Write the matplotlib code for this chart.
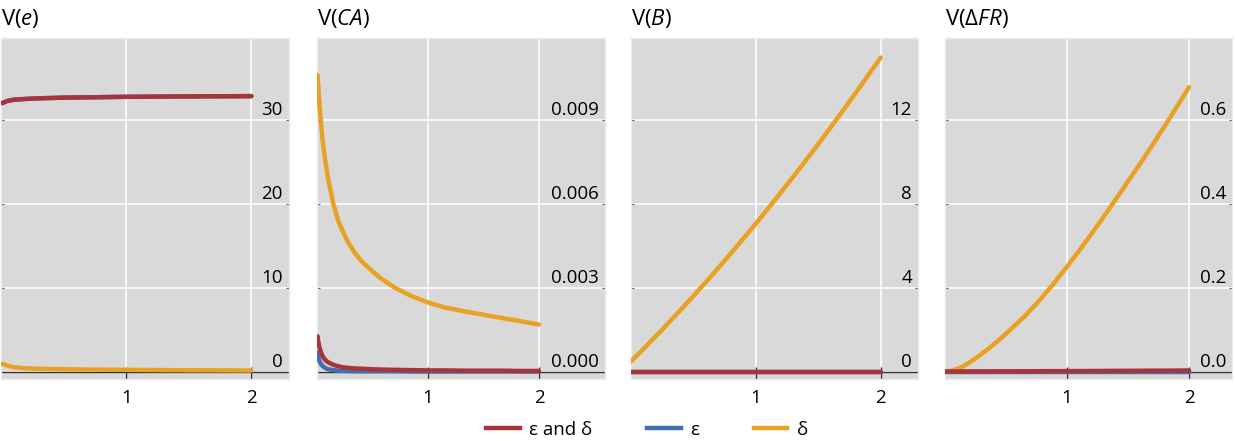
import matplotlib
matplotlib.use("Agg")
import matplotlib.pyplot as plt
import matplotlib.transforms as mtransforms
from matplotlib.lines import Line2D

plt.rcParams["font.family"] = ["Open Sans", "DejaVu Sans"]
plt.rcParams["mathtext.fontset"] = "custom"
plt.rcParams["mathtext.rm"] = "Open Sans"
plt.rcParams["mathtext.it"] = "Open Sans:italic"

RED = "#a8343a"
BLUE = "#4070b4"
ORANGE = "#e9a124"
BG = "#d9d9d9"

# V(e)
x_e = [0.01, 0.05, 0.1, 0.2, 0.3, 0.5, 0.75, 1.0, 1.5, 2.0]
e_both = [32.0, 32.25, 32.4, 32.5, 32.57, 32.65, 32.7, 32.75, 32.8, 32.83]
e_eps = [32.0, 32.25, 32.4, 32.5, 32.57, 32.65, 32.7, 32.75, 32.8, 32.83]
e_delta = [0.92, 0.7, 0.52, 0.38, 0.32, 0.27, 0.23, 0.2, 0.15, 0.12]

# V(CA)
x_ca = [0.005, 0.01, 0.02, 0.033, 0.05, 0.072, 0.1, 0.147, 0.19, 0.237, 0.28, 0.34,
        0.4, 0.5, 0.58, 0.7, 0.85, 1.0, 1.15, 1.33, 1.5, 1.66, 1.83, 2.0]
ca_both = [0.00126, 0.0011, 0.0009, 0.00072, 0.00055, 0.00042, 0.00033, 0.00024,
           0.00019, 0.00015, 0.00013, 0.00011, 0.0001, 0.00008, 0.00007, 0.00006,
           0.00005, 0.00004, 0.00004, 0.00003, 0.00003, 0.00003, 0.00002, 0.00002]
ca_eps = [0.00067, 0.00055, 0.0004, 0.00028, 0.0002, 0.00013, 0.00008, 0.00005,
          0.00003, 0.00002, 0.00002, 0.00001, 0.00001, 0.00001, 0.00001, 0.00001,
          0.0, 0.0, 0.0, 0.0, 0.0, 0.0, 0.0, 0.0]
ca_delta = [0.0106, 0.0103, 0.0097, 0.0090, 0.0083, 0.0076, 0.0069, 0.0060,
            0.0054, 0.00497, 0.00462, 0.00425, 0.00395, 0.00358, 0.00332, 0.00300,
            0.00270, 0.00247, 0.00229, 0.00215, 0.00203, 0.00192, 0.00180, 0.00168]

# V(B)
x_b = [0.0, 0.125, 0.25, 0.375, 0.5, 0.625, 0.75, 0.875, 1.0,
       1.125, 1.25, 1.375, 1.5, 1.625, 1.75, 1.875, 2.0]
b_both = [0.0] * 17
b_eps = [0.0] * 17
b_delta = [0.48, 1.23, 2.0, 2.79, 3.6, 4.43, 5.28, 6.16, 7.05,
           7.97, 8.91, 9.86, 10.84, 11.84, 12.87, 13.91, 14.97]

# V(ΔFR)
x_fr = [0.0, 0.05, 0.1, 0.156, 0.25, 0.35, 0.45, 0.54, 0.65, 0.757, 0.88,
        1.0, 1.11, 1.22, 1.31, 1.41, 1.52, 1.63, 1.72, 1.82, 1.91, 2.0]
fr_both = [0.0, 0.0001, 0.0001, 0.0002, 0.0002, 0.0003, 0.0004, 0.0005, 0.0006, 0.0007, 0.0009,
           0.001, 0.0011, 0.0013, 0.0014, 0.0016, 0.0017, 0.0019, 0.002, 0.0021, 0.0023, 0.0024]
fr_eps = [0.0] * 22
fr_delta = [0.0, 0.0015, 0.006, 0.0135, 0.031, 0.053, 0.077, 0.101, 0.131, 0.164, 0.206,
            0.25, 0.292, 0.336, 0.373, 0.415, 0.462, 0.509, 0.549, 0.594, 0.636, 0.678]

titles = ["V($\\mathit{e}$)", "V($\\mathit{CA}$)", "V($\\mathit{B}$)", "V($\\mathit{ΔFR}$)"]
yticks = [[0, 10, 20, 30], [0.0, 0.003, 0.006, 0.009], [0, 4, 8, 12], [0.0, 0.2, 0.4, 0.6]]
ylabels = [["0", "10", "20", "30"], ["0.000", "0.003", "0.006", "0.009"],
           ["0", "4", "8", "12"], ["0.0", "0.2", "0.4", "0.6"]]
xs = [x_e, x_ca, x_b, x_fr]
both = [e_both, ca_both, b_both, fr_both]
eps = [e_eps, ca_eps, b_eps, fr_eps]
delta = [e_delta, ca_delta, b_delta, fr_delta]

W, H = 1235, 441
fig = plt.figure(figsize=(W / 100, H / 100), dpi=100)

# panel extents in pixels and right-hand x limit
boxes = [(1, 289), (317, 605), (631, 918), (945, 1232)]
xmax = [2.30, 2.595, 2.30, 2.352]
top_px, bot_px = 38, 379

for i in range(4):
    l, r = boxes[i]
    ax = fig.add_axes([l / W, (H - bot_px) / H, (r - l) / W, (bot_px - top_px) / H])
    ax.set_facecolor(BG)
    step = yticks[i][1] - yticks[i][0]
    ax.set_ylim(-step * 7.5 / 84, step * 334 / 84)
    ax.set_xlim(0, xmax[i])

    ax.grid(True, color="white", lw=1.1)
    ax.set_axisbelow(True)
    ax.axhline(0, color="#333333", lw=1.0, zorder=2)

    ax.plot(xs[i], eps[i], color=BLUE, lw=3.2, zorder=3, solid_capstyle="round")
    ax.plot(xs[i], delta[i], color=ORANGE, lw=3.2, zorder=4, solid_capstyle="round")
    ax.plot(xs[i], both[i], color=RED, lw=3.2, zorder=5, solid_capstyle="round")

    ax.set_xticks([1, 2])
    ax.set_xticklabels(["1", "2"])
    ax.tick_params(axis="x", direction="in", length=9, width=1, color="#333333",
                   labelsize=13.5, pad=7)
    ax.set_yticks(yticks[i])
    ax.tick_params(axis="y", direction="in", length=2, width=0.8, color="#666666",
                   left=True, right=True, labelleft=False)
    for s in ax.spines.values():
        s.set_color("#ececec")
        s.set_linewidth(1)

    trans = mtransforms.offset_copy(ax.get_yaxis_transform(), fig=fig, x=-6, y=5, units="dots")
    for v, lab in zip(yticks[i], ylabels[i]):
        ax.text(1.0, v, lab, transform=trans, ha="right", va="baseline", fontsize=13.5, zorder=6)

    ax.set_title(titles[i], loc="left", fontsize=16, pad=9)

handles = [Line2D([], [], color=c, lw=3.2) for c in (RED, BLUE, ORANGE)]
fig.legend(handles, ["ε and δ", "ε", "δ"], loc="center", bbox_to_anchor=(0.524, 0.026),
           ncol=3, frameon=False, fontsize=13.5, handlelength=1.8, handletextpad=0.5,
           columnspacing=2.9, borderpad=0, borderaxespad=0)

fig.savefig("out.png", dpi=100)
